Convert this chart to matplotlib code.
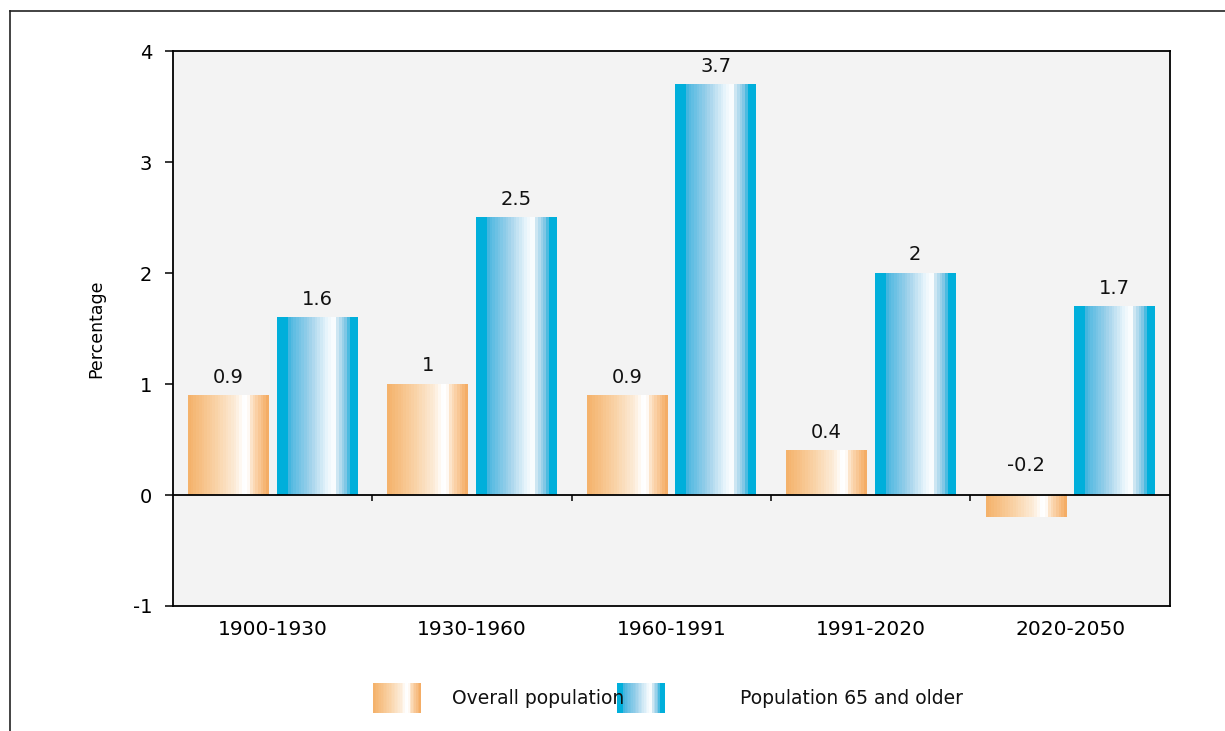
import numpy as np
import matplotlib
matplotlib.use('Agg')
import matplotlib.pyplot as plt
from matplotlib.colors import LinearSegmentedColormap
from matplotlib.lines import Line2D

plt.rcParams['font.family'] = ['DejaVu Sans']
plt.rcParams['axes.unicode_minus'] = False

# data
periods = ['1900-1930', '1930-1960', '1960-1991', '1991-2020', '2020-2050']
overall = [0.9, 1.0, 0.9, 0.4, -0.2]
older = [1.6, 2.5, 3.7, 2.0, 1.7]
labels_overall = ['0.9', '1', '0.9', '0.4', '-0.2']
labels_older = ['1.6', '2.5', '3.7', '2', '1.7']
series_names = ['Overall population', 'Population 65 and older']

# banded gradients like the original bars
orange_cm = LinearSegmentedColormap.from_list('orng', [
    (0.00, (0.96, 0.70, 0.42)),
    (0.35, (0.98, 0.83, 0.66)),
    (0.60, (0.99, 0.93, 0.86)),
    (0.69, (1.00, 1.00, 1.00)),
    (0.75, (1.00, 1.00, 1.00)),
    (0.80, (0.99, 0.88, 0.76)),
    (1.00, (0.96, 0.68, 0.40))], N=30)
blue_cm = LinearSegmentedColormap.from_list('blu', [
    (0.00, (0.00, 0.69, 0.86)),
    (0.12, (0.00, 0.69, 0.86)),
    (0.14, (0.30, 0.72, 0.88)),
    (0.40, (0.62, 0.82, 0.92)),
    (0.64, (0.93, 0.97, 0.99)),
    (0.72, (1.00, 1.00, 1.00)),
    (0.76, (0.80, 0.90, 0.95)),
    (0.88, (0.45, 0.76, 0.89)),
    (0.93, (0.00, 0.69, 0.86)),
    (1.00, (0.00, 0.69, 0.86))], N=30)
grad = np.linspace(0, 1, 256).reshape(1, -1)

fig = plt.figure(figsize=(12.25, 7.31), dpi=100)
ax = fig.add_axes([0.1412, 0.171, 0.8138, 0.7592])
ax.set_facecolor('#f3f3f3')

x = np.arange(len(periods))
width = 0.405
offset = 0.222

for xs, vals, cm in [(x - offset, overall, orange_cm), (x + offset, older, blue_cm)]:
    for xi, v in zip(xs, vals):
        lo, hi = min(0, v), max(0, v)
        ax.imshow(grad, cmap=cm, aspect='auto', interpolation='nearest',
                  extent=(xi - width / 2, xi + width / 2, lo, hi), zorder=2)

for xs, vals, labs in [(x - offset, overall, labels_overall), (x + offset, older, labels_older)]:
    for xi, v, lab in zip(xs, vals, labs):
        dy = 13 if v >= 0 else 21.5
        ax.annotate(lab, (xi, max(v, 0)), xytext=(0, dy), textcoords='offset points',
                    ha='center', va='center', fontsize=14, color='#111111')

ax.axhline(0, color='black', lw=1.3, zorder=3)
bounds = np.arange(len(periods) - 1) + 0.5
ax.vlines(bounds, -0.055, 0, color='black', lw=1.1, zorder=3)

ax.set_xlim(-0.5, len(periods) - 0.5)
ax.set_ylim(-1, 4)
ax.set_yticks(range(-1, 5))
ax.set_xticks(x)
ax.set_xticklabels(periods)
ax.tick_params(axis='x', length=0, pad=10, labelsize=14.5)
ax.tick_params(axis='y', length=6, width=1.1, direction='out', pad=9, labelsize=14)
for s in ax.spines.values():
    s.set_linewidth(1.3)
ax.set_ylabel('Percentage', fontsize=12.5, labelpad=20)

# legend drawn by hand with gradient swatches
for px, cm, tx, name in [(0.3045, orange_cm, 0.369, series_names[0]),
                         (0.5037, blue_cm, 0.604, series_names[1])]:
    sw = fig.add_axes([px, 0.025, 0.0384, 0.041])
    sw.imshow(grad, cmap=cm, aspect='auto', interpolation='nearest')
    sw.axis('off')
    fig.text(tx, 0.045, name, fontsize=13.5, va='center', ha='left', color='#111111')

# outer frame
fig.add_artist(Line2D([0.0082, 0.0082], [0, 0.985], color='#222222', lw=1.2))
fig.add_artist(Line2D([0.0082, 1.0], [0.985, 0.985], color='#222222', lw=1.2))

fig.savefig('out.png', dpi=100)
